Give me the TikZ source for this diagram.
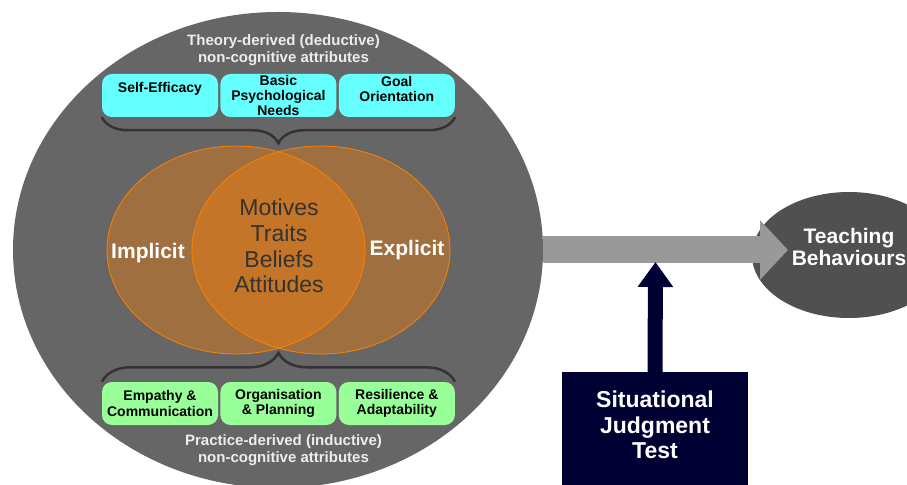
\documentclass[tikz,border=0pt]{standalone}
\usepackage{fontspec}
\setmainfont{Liberation Sans}
\usepackage{tikz}
\usetikzlibrary{shapes.geometric,arrows.meta,positioning}
\usetikzlibrary{decorations.pathreplacing}
\definecolor{outergray}{HTML}{666666}
\definecolor{teachgray}{HTML}{505050}
\definecolor{arrowgray}{HTML}{999999}
\definecolor{sjtnavy}{HTML}{000033}
\definecolor{theorycyan}{HTML}{66FFFF}
\definecolor{practicegreen}{HTML}{99FF99}
\definecolor{vennorange}{HTML}{FF8000}
\definecolor{coretext}{HTML}{333333}
\definecolor{bracegray}{HTML}{333333}

\begin{document}
\begin{tikzpicture}[x=1bp,y=-1bp,
    every node/.style={inner sep=0pt},
    attrlbl/.style={text=white!93!black, align=center, font=\bfseries\fontsize{15bp}{17bp}\selectfont},
    theorybox/.style={fill=theorycyan, rounded corners=10bp, minimum width=116bp, minimum height=43bp, align=center, font=\bfseries\fontsize{14bp}{15.2bp}\selectfont},
    practicebox/.style={theorybox, fill=practicegreen},
    venn/.style={draw=vennorange, line width=0.8bp, fill=vennorange, fill opacity=0.38},
    sidelbl/.style={text=white, font=\bfseries\fontsize{21bp}{23bp}\selectfont},
    corelbl/.style={text=coretext, align=center, font=\fontsize{23bp}{25.7bp}\selectfont},
    whitelbl/.style={text=white, align=center, font=\bfseries\fontsize{21bp}{22bp}\selectfont},
    attrbrace/.style={decorate, decoration={brace, amplitude=#1}, draw=bracegray, line width=2.5bp},
  ]
      \useasboundingbox (0,0) rectangle (907,485);
      \clip (0,0) rectangle (907,485);
      \node (attr) at (278,250) [ellipse, fill=outergray, minimum width=530bp, minimum height=476bp] {};
      \node (teach) at (849,255) [ellipse, fill=teachgray, minimum width=194bp, minimum height=126bp] {};
      \coordinate (teachtip) at (788,250);
      \draw [arrowgray, line width=27bp, -{Triangle[length=28bp,width=58bp]}] (attr.east) -- (teachtip);
      \node (teachlbl) at (849,247) [whitelbl] {Teaching\\Behaviours};

      \node (sjt) at (655,430) [fill=sjtnavy, minimum width=186bp, minimum height=116bp] {};
      \node (sjtlbl) at (655,425) [whitelbl, font=\bfseries\fontsize{23bp}{25.5bp}\selectfont] {Situational\\Judgment\\Test};
      \coordinate (sjttip) at (655.5,262);
      \draw [sjtnavy, line width=15bp, -{Triangle[length=25bp,width=34bp]}] (sjt.north) -- (sjttip);

      \node (theory) at (283.5,50) [attrlbl] {Theory-derived (deductive)\\non-cognitive attributes};
      \node (self) at (160,95.5) [theorybox] {Self-Efficacy\\\mbox{}};
      \node (basic) [theorybox, right=2bp of self] {Basic\\Psychological\\Needs};
      \node (goal) [theorybox, right=2bp of basic] {Goal\\Orientation\\[-2bp]\mbox{}};
      \draw [attrbrace=26bp] (goal.south east) -- (self.south west);

      \filldraw [venn] (236,250) ellipse [x radius=129bp, y radius=104bp];
      \filldraw [venn] (321,250) ellipse [x radius=129bp, y radius=104bp];
      \node (impl) at (148,253) [sidelbl] {Implicit};
      \node (expl) at (407,250) [sidelbl] {Explicit};
      \node (core) at (279,246) [corelbl] {Motives\\Traits\\Beliefs\\Attitudes};

      \node (emp) at (160,403.5) [practicebox] {Empathy \&\\Communication};
      \node (org) [practicebox, right=2bp of emp] {Organisation\\\& Planning};
      \node (res) [practicebox, right=2bp of org] {Resilience \&\\Adaptability};
      \draw [attrbrace=29bp] (emp.north west) -- (res.north east);
      \node (practice) at (283.5,450) [attrlbl] {Practice-derived (inductive)\\non-cognitive attributes};
\end{tikzpicture}
\end{document}
